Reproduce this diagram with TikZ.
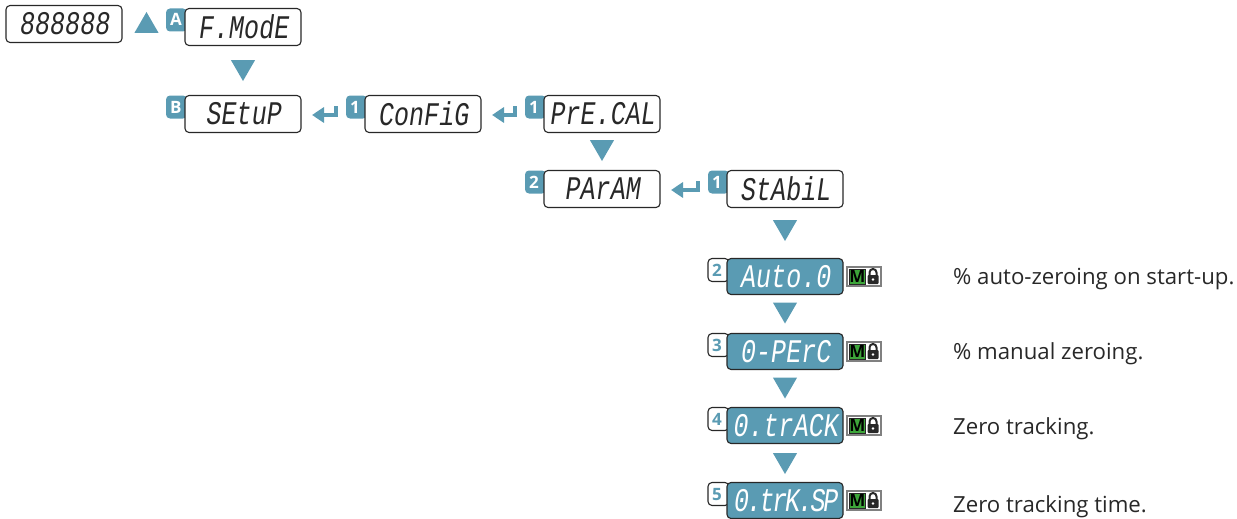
\documentclass[tikz,border=0pt]{standalone}
\usepackage{fontspec}
\setmainfont{Open Sans}
\newfontfamily\segfont[FakeSlant=0.14,FakeStretch=0.76]{Liberation Mono}
\usetikzlibrary{positioning, calc, shapes.geometric, arrows.meta}
\definecolor{my_teal}{RGB}{90, 155, 179}
\definecolor{my_green}{RGB}{61, 165, 58}
\definecolor{my_dark}{RGB}{40, 40, 40}
\tikzset {
  box/.style = {draw=my_dark, line width=1.1pt, fill=white, text=my_dark, rounded corners=4pt, rectangle, minimum height=37pt, minimum width=116pt, inner sep=0pt, outer sep=0pt, font=\segfont\fontsize{33}{33}\selectfont},
  litbox/.style = {box, minimum height=36pt, fill=my_teal, text=white},
  badge/.style = {fill=my_teal, text=white, rounded corners=4pt, rectangle, minimum height=23pt, minimum width=21pt, inner sep=0pt, outer sep=0pt, anchor=north east, font=\bfseries\fontsize{17}{17}\selectfont, text depth=0pt, text height=12pt, align=left, text width=13pt},
  litbadge/.style = {badge, draw=my_dark, line width=1.1pt, fill=white, text=my_teal},
  updown/.style = {fill=my_teal, regular polygon, regular polygon sides=3, minimum size=28pt, inner sep=0pt, outer sep=0pt},
  line/.style = {-{Triangle[length=12pt, width=15pt]}, line width=3.2pt, color=my_teal},
  note/.style = {anchor=west, inner sep=0pt, text=my_dark, font=\fontsize{22.2}{22.2}\selectfont},
  mlock/.pic = {
    \draw[draw=gray, line width=1.2pt, fill=white] (-17,-9.5) rectangle (17,9.5);
    \node[fill=my_green, draw=my_dark, line width=0.4pt, minimum size=15.5pt, inner sep=0pt, font=\bfseries\fontsize{17}{17}\selectfont] (-m) at (-6.5,0) {M};
    \draw[my_dark, line width=2pt] (5.5,0) -- (5.5,-4) arc [start angle=180, end angle=0, x radius=3.5, y radius=-3.5] -- (12.5,0);
    \fill[my_dark, rounded corners=1pt] (3.5,-1.5) rectangle (14.5,7.5);
    \fill[white] (9,3) circle (1.3);
  },
}
\pgfdeclarelayer{background}
\pgfsetlayers{background,main}

\begin{document}
\begin{tikzpicture}[x=1pt, y=-1pt]
    \useasboundingbox (0,0) rectangle (1237,519);

    \node[box] (display) at (64,24) {888888};
    \node[updown] (up) at (146.5,26) {};

    \node[box] (fmode) at (243,27) {F.ModE};
    \node[box, below=50pt of fmode] (setup) {SEtuP};
    \node[box, right=64pt of setup] (config) {ConFiG};
    \node[box, right=63pt of config] (precal) {PrE.CAL};
    \node[box, below=38pt of precal] (param) {PArAM};
    \node[box, right=67pt of param] (stabil) {StAbiL};
    \node[litbox, below=51pt of stabil] (auto) {Auto.0};
    \node[litbox, below=39pt of auto] (perc) {0-PErC};
    \node[litbox, below=38pt of perc] (track) {0.trACK};
    \node[litbox, below=39pt of track] (time) {\addfontfeature{LetterSpace=-7}0.trK.SP};

    \begin{pgfonlayer}{background}
        \foreach \boxname/\tag in {fmode/A, setup/B, config/1, precal/1, param/2, stabil/1}
            \node[badge] (tag-\boxname) at ($(\boxname.north west)+(2,0)$) {\tag};
        \foreach \boxname/\tag in {auto/2, perc/3, track/4, time/5}
            \node[litbadge] (tag-\boxname) at ($(\boxname.north west)+(2,0)$) {\tag};
    \end{pgfonlayer}

    \foreach \boxname/\gap in {fmode/14.5, precal/7.5, stabil/12.5, auto/8, perc/8, track/9.5}
        \node[updown, shape border rotate=180, below=\gap pt of \boxname] (down-\boxname) {};

    \foreach \from/\to in {config/setup, precal/config, stabil/param}
        \draw[line] ($(\from.west)+(-29,-8)$) |- ($(\to.east)+(11,1)$);

    \foreach \boxname in {auto, perc, track, time}
        \pic (lock-\boxname) at ($(\boxname.east)+(21,0)$) {mlock};

    \node[note] (note-auto) at (953,279) {\% auto-zeroing on start-up.};
    \node[note] (note-perc) at (953,354) {\% manual zeroing.};
    \node[note] (note-track) at (953,429) {Zero tracking.};
    \node[note] (note-time) at (953,507) {Zero tracking time.};
\end{tikzpicture}
\end{document}
